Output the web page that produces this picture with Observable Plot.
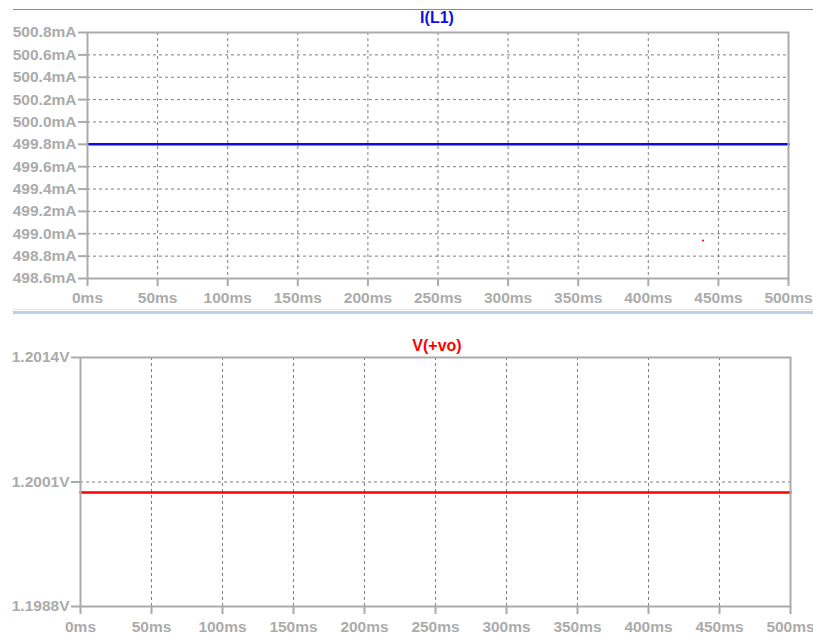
<!DOCTYPE html>
<html><head><meta charset="utf-8">
<script src="https://cdn.jsdelivr.net/npm/d3@7"></script>
<script src="https://cdn.jsdelivr.net/npm/@observablehq/plot@0.6"></script>
<style>
body{margin:0;background:#fff;}
#root{position:relative;width:813px;height:635px;overflow:hidden;background:#fff;font-family:'Liberation Sans',Arial,sans-serif;}
.title{position:absolute;font-weight:bold;font-size:16px;transform:translate(-50%,-50%);white-space:nowrap;}
</style></head><body><div id="root"></div>
<script>
// ---- data ----
const timeMs = [0, 500];
const iL1mA = [499.8, 499.8];
const voV = [1.19999, 1.19999];
const xTicks = [0, 50, 100, 150, 200, 250, 300, 350, 400, 450, 500];
const iTicks = [498.6, 498.8, 499.0, 499.2, 499.4, 499.6, 499.8, 500.0, 500.2, 500.4, 500.6, 500.8];
const vTicks = [1.1988, 1.2001, 1.2014];
const cursorT = [439];
const cursorI = [498.94];
const titles = ["I(L1)", "V(+vo)"];

const gray = "#ababab";
const gridColor = "#7f7f7f";
const font = "bold 15.5px 'Liberation Sans', Arial, sans-serif";
const root = document.getElementById("root");

function add(el, css) { Object.assign(el.style, css); root.appendChild(el); return el; }

// decorative lines
add(document.createElement("div"), {position:"absolute", left:"13px", top:"9px", width:"800px", height:"1px", background:"#8a8a8a"});
add(document.createElement("div"), {position:"absolute", left:"13px", top:"309px", width:"800px", height:"1px", background:"#e6e6e6"});
add(document.createElement("div"), {position:"absolute", left:"13px", top:"311px", width:"800px", height:"3px", background:"#bcd2ea"});

const topData = timeMs.map((t, k) => ({t, v: iL1mA[k]}));
const botData = timeMs.map((t, k) => ({t, v: voV[k]}));
const cursor = cursorT.map((t, k) => ({t, v: cursorI[k]}));

const topPlot = Plot.plot({
  width: 813, height: 308,
  marginLeft: 87, marginRight: 25, marginTop: 32, marginBottom: 30,
  style: {font, background: "transparent", overflow: "visible"},
  x: {domain: [0, 500]},
  y: {domain: [498.6, 500.8]},
  marks: [
    Plot.gridX(xTicks, {stroke: gridColor, strokeOpacity: 1, strokeDasharray: "3,3"}),
    Plot.gridY(iTicks, {stroke: gridColor, strokeOpacity: 1, strokeDasharray: "3,3"}),
    Plot.line(topData, {x: "t", y: "v", stroke: "#0a0ae6", strokeWidth: 2.6}),
    Plot.dot(cursor, {x: "t", y: "v", r: 1, fill: "red", stroke: null}),
    Plot.frame({stroke: gray, strokeWidth: 2}),
    Plot.axisY(iTicks, {tickSize: 9, tickPadding: 2, tickFormat: d => d.toFixed(1) + "mA", stroke: gray, strokeWidth: 2, fill: gray, label: null}),
    Plot.axisX(xTicks, {tickSize: 8, tickPadding: 5, tickFormat: d => d + "ms", stroke: gray, strokeWidth: 2, fill: gray, label: null})
  ]
});
const topDiv = add(document.createElement("div"), {position:"absolute", left:"0px", top:"0px"});
topDiv.appendChild(topPlot);

const botPlot = Plot.plot({
  width: 813, height: 320,
  marginLeft: 80, marginRight: 23, marginTop: 42, marginBottom: 29,
  style: {font, background: "transparent", overflow: "visible"},
  x: {domain: [0, 500]},
  y: {domain: [1.1988, 1.2014]},
  marks: [
    Plot.gridX(xTicks, {stroke: gridColor, strokeOpacity: 1, strokeDasharray: "3,3"}),
    Plot.gridY(vTicks, {stroke: gridColor, strokeOpacity: 1, strokeDasharray: "3,3"}),
    Plot.line(botData, {x: "t", y: "v", stroke: "#ff0000", strokeWidth: 2.6}),
    Plot.frame({stroke: gray, strokeWidth: 2}),
    Plot.axisY(vTicks, {tickSize: 9, tickPadding: 2, tickFormat: d => d.toFixed(4) + "V", stroke: gray, strokeWidth: 2, fill: gray, label: null}),
    Plot.axisX(xTicks, {tickSize: 8, tickPadding: 6, tickFormat: d => d + "ms", stroke: gray, strokeWidth: 2, fill: gray, label: null})
  ]
});
const botDiv = add(document.createElement("div"), {position:"absolute", left:"0px", top:"315px"});
botDiv.appendChild(botPlot);

// titles
const t1 = add(document.createElement("div"), {left: "437px", top: "18px", color: "#1010e0"});
t1.className = "title"; t1.textContent = titles[0];
const t2 = add(document.createElement("div"), {left: "437px", top: "346px", color: "#ff0000"});
t2.className = "title"; t2.textContent = titles[1];
</script>
</body></html>
